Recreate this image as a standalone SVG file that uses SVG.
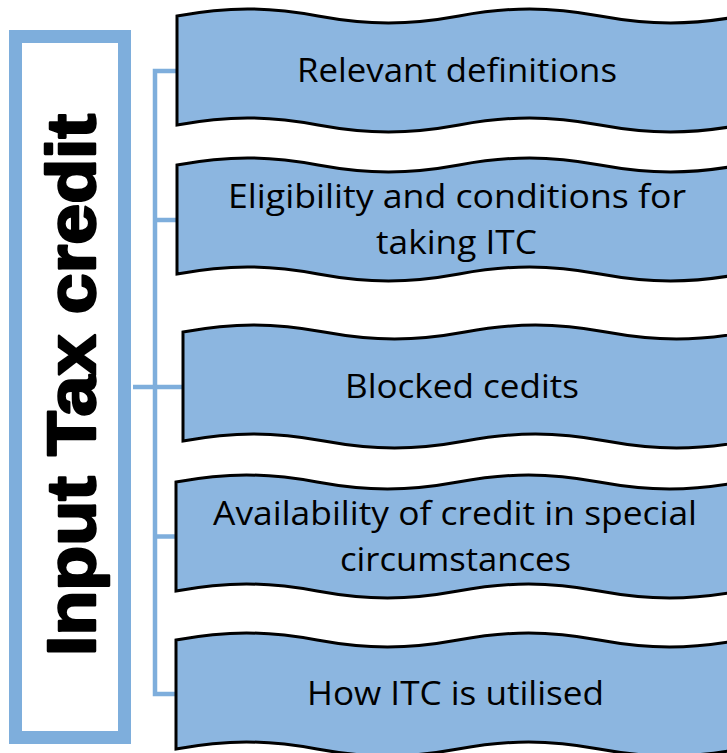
<svg xmlns="http://www.w3.org/2000/svg" width="727" height="753" viewBox="0 0 727 753">
<style>
.wave{fill:#8CB6E0;stroke:#000;stroke-width:3;stroke-linejoin:miter}
.lbl{font-family:"Open Sans","Noto Sans","Liberation Sans",sans-serif;font-size:32px;fill:#000;text-anchor:middle}
.conn{fill:none;stroke:#7EAEDC;stroke-width:4.5}
.title{font-family:"Liberation Sans",Arial,sans-serif;font-weight:bold;font-size:68px;fill:#000;stroke:#000;stroke-width:2.5;stroke-linejoin:round;text-anchor:middle}
</style>
<defs>
<path id="w" d="M0,0 c51,-9.33 90,-9.33 141,0 c51,9.33 90,9.33 141,0 c51,-9.33 90,-9.33 141,0 c51,9.33 90,9.33 141,0 V109 c-51,9.33 -90,9.33 -141,0 c-51,-9.33 -90,-9.33 -141,0 c-51,9.33 -90,9.33 -141,0 c-51,-9.33 -90,-9.33 -141,0 Z"/>
</defs>
<g id="title-box">
<rect x="15.5" y="36.5" width="109" height="701" fill="#fff" stroke="#7EAEDC" stroke-width="13"/>
<text class="title" transform="translate(95,385) rotate(-90)" x="0" y="0" textLength="542" lengthAdjust="spacingAndGlyphs">Input Tax credit</text>
</g>
<g id="connectors">
<path class="conn" d="M178,71 H155 V694 H177"/>
<path class="conn" d="M155,220 H177"/>
<path class="conn" d="M133,387 H183"/>
<path class="conn" d="M155,536.5 H177"/>
</g>
<g id="node1">
<use href="#w" class="wave" transform="translate(177,16)"/>
<text class="lbl" x="457" y="82" textLength="320" lengthAdjust="spacingAndGlyphs">Relevant definitions</text>
</g>
<g id="node2">
<use href="#w" class="wave" transform="translate(177,165)"/>
<text class="lbl" x="457" y="208" textLength="458" lengthAdjust="spacingAndGlyphs">Eligibility and conditions for</text>
<text class="lbl" x="456.5" y="254" textLength="161" lengthAdjust="spacingAndGlyphs">taking ITC</text>
</g>
<g id="node3">
<use href="#w" class="wave" transform="translate(183,332)"/>
<text class="lbl" x="462" y="398" textLength="234" lengthAdjust="spacingAndGlyphs">Blocked cedits</text>
</g>
<g id="node4">
<use href="#w" class="wave" transform="translate(176,482)"/>
<text class="lbl" x="455" y="525" textLength="484" lengthAdjust="spacingAndGlyphs">Availability of credit in special</text>
<text class="lbl" x="455.5" y="571" textLength="231" lengthAdjust="spacingAndGlyphs">circumstances</text>
</g>
<g id="node5">
<use href="#w" class="wave" transform="translate(176,640)"/>
<text class="lbl" x="455.5" y="705" textLength="297" lengthAdjust="spacingAndGlyphs">How ITC is utilised</text>
</g>
</svg>
